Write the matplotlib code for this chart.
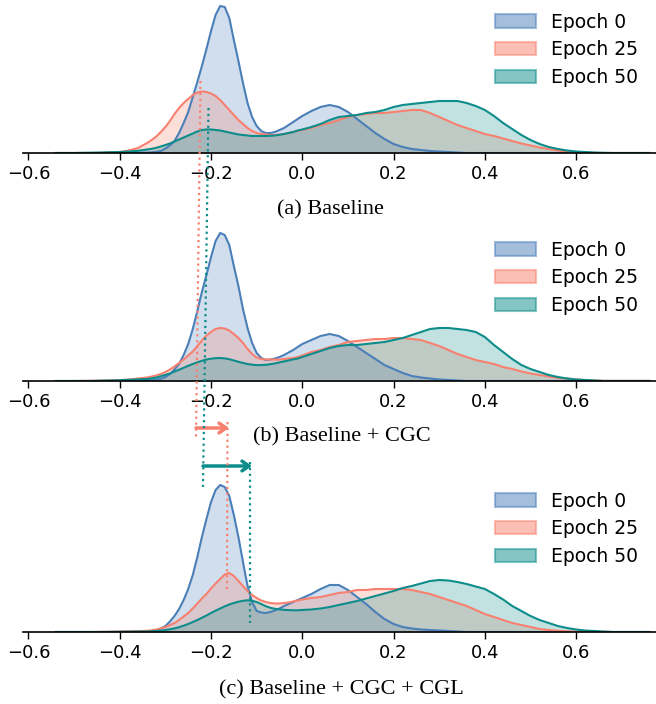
import numpy as np
import matplotlib
matplotlib.use("Agg")
import matplotlib.pyplot as plt
from matplotlib.patches import Patch, FancyArrowPatch
from matplotlib.lines import Line2D

plt.rcParams['font.family'] = ['DejaVu Sans']

# evaluation grid of the density curves: finer around the sharp first peak
x_grid = np.round(np.r_[np.arange(-0.54, -0.35, 0.02),
                        np.arange(-0.34, -0.005, 0.01),
                        np.arange(0.0, 0.761, 0.02)], 2)

# densities (arbitrary units), one list per epoch and panel
# (a) Baseline
a_ep0 = [0, 0, 0, 0, 0, 0, 0, 0, 0, 0.2,
         0.4, 0.7, 1.2, 2, 4.5, 7.5, 12, 20, 30, 41, 56, 71, 87, 104, 122, 138, 147, 146, 135, 113,
         92, 70, 50, 36, 27, 22, 20, 20, 21, 23, 25, 28, 31, 34,
         37, 42, 46, 48, 46, 41, 34, 27, 20, 14, 9, 6, 4, 3, 2, 1.5, 1, 0.5, 0, 0,
         0, 0, 0, 0, 0, 0, 0, 0, 0, 0, 0, 0, 0, 0, 0, 0, 0, 0, 0]
a_ep25 = [0, 0, 0, 0, 0, 0.2, 0.5, 1, 2.5, 5,
          10, 13, 16.5, 21, 26, 32, 39, 45, 50, 54, 58, 60.5, 61.5, 61, 59.5, 57, 53, 48, 43, 38,
          33, 29, 25, 22, 20, 19, 18.5, 18, 18, 18.5, 19, 20, 21, 22,
          23, 25, 28, 30, 33, 36, 38, 39, 40, 40, 41, 42, 43, 43, 40, 36, 32, 28, 25, 22,
          19, 17, 14.5, 12, 9.5, 7.5, 5.5, 4, 2.5, 1.5, 1, 0.5, 0, 0, 0, 0, 0, 0, 0]
a_ep50 = [0, 0, 0, 0.2, 0.3, 0.5, 0.8, 1, 1.5, 2.2,
          3.5, 4.2, 5.2, 6.5, 8, 9.5, 11.5, 13.5, 15.5, 17.5, 19.5, 21.5, 23, 23.5, 23.5, 23, 22.5,
          21.5, 20.5, 19.5, 18.5, 18, 17.5, 17, 17, 17, 17, 17.2, 17.5, 18.2, 19, 20, 21, 22.5,
          23.5, 26, 29, 33, 36, 37, 38, 40, 41, 43, 46, 48, 49, 50, 51, 52, 52, 52, 50, 47,
          43, 37, 30, 24, 18, 13, 9, 6, 4, 2.5, 1.5, 1, 0.5, 0.2, 0, 0, 0, 0, 0]

# (b) Baseline + CGC
b_ep0 = [0, 0, 0, 0, 0, 0, 0, 0, 0, 0.2,
         0.5, 0.8, 1.3, 2.2, 4, 7, 11.5, 17, 26, 37, 52, 70, 89, 106, 124, 140, 148, 146, 136, 115,
         95, 72, 53, 38, 28, 23, 21, 21.5, 22.5, 24, 26, 28.5, 31, 34,
         37, 41, 45, 47, 45, 40, 34, 28, 22, 16, 12, 8, 5, 3.5, 2.5, 1.5, 1, 0.5, 0, 0,
         0, 0, 0, 0, 0, 0, 0, 0, 0, 0, 0, 0, 0, 0, 0, 0, 0, 0, 0]
b_ep25 = [0, 0, 0, 0.2, 0.3, 0.4, 0.6, 0.9, 1.5, 2.5,
          3.5, 4.5, 5.5, 7, 9, 11.5, 14.5, 18, 21.5, 25.5, 29.5, 35, 40.5, 45.5, 49, 52, 53, 52.5,
          50.5, 47, 43, 38, 32, 27, 23.5, 22, 21.5, 21.5, 21.5, 21.5, 22, 22.5, 23, 24,
          25.5, 29, 31, 34, 36, 39, 40, 41, 42, 42, 43, 43, 42, 41, 38, 35, 31, 27, 24, 21,
          19, 17, 14, 12, 9.5, 7.5, 6, 4.5, 3, 2.5, 1.5, 1, 0.5, 0.2, 0.2, 0.2, 0.2, 0.2, 0.2]
b_ep50 = [0, 0, 0, 0, 0, 0.3, 0.5, 0.8, 1.2, 1.6,
          2, 2.7, 3.5, 4.8, 6.2, 7.5, 9.5, 11.3, 13.2, 15.2, 17, 18.7, 20.2, 21.5, 22.3, 22.8, 23,
          22.6, 21.8, 20.5, 19.2, 18, 17, 16.3, 15.9, 15.9, 16.2, 16.8, 17.6, 18.6, 19.6, 20.6,
          21.6, 22.5,
          24, 27, 30, 33, 35, 36, 36, 37, 38, 39, 41, 43, 46, 49, 52, 53, 53, 52, 51, 49,
          44, 36, 29, 22, 16, 12, 9, 6, 4, 2.5, 1.5, 1, 0.5, 0, 0, 0, 0, 0, 0]

# (c) Baseline + CGC + CGL
c_ep0 = [0, 0, 0, 0, 0, 0, 0, 0, 0.1, 0.3,
         0.5, 1, 1.8, 3.5, 6, 10.5, 16, 23, 32, 43, 57, 75, 95, 113, 130, 142, 147, 145, 136, 117,
         95, 70, 46, 30, 21, 19.5, 19, 20, 21.5, 23.5, 26, 28, 30, 32,
         34, 38, 43, 47, 47, 42, 35, 28, 20, 13, 8, 5, 3.5, 2.5, 2, 1.5, 1, 0.5, 0, 0,
         0, 0, 0, 0, 0, 0, 0, 0, 0, 0, 0, 0, 0, 0, 0, 0, 0, 0, 0]
c_ep25 = [0, 0, 0, 0, 0, 0.2, 0.3, 0.5, 0.7, 0.9,
          1.2, 1.7, 2.5, 3.5, 5, 7, 9, 12, 15.5, 19, 23.5, 28.5, 33.5, 38, 43.5, 48.5, 53, 57.5,
          59, 56, 51, 46, 41, 37, 34, 31.5, 30, 29, 28.5, 28.5, 29, 29.5, 30.5, 31.5,
          32.5, 34, 35, 37, 39, 40, 42, 42, 43, 43, 43, 43, 42, 40, 38, 35, 32, 29, 26, 22,
          18, 15, 12, 9, 7, 5, 3, 2, 1.2, 0.7, 0.3, 0, 0, 0, 0, 0, 0, 0, 0]
c_ep50 = [0, 0, 0, 0, 0, 0, 0.1, 0.2, 0.3, 0.4,
          0.5, 0.7, 1, 1.4, 2, 2.7, 3.6, 4.8, 6.3, 8, 10, 12, 14.2, 16.5, 19, 21.3, 23.5, 25.6,
          27.5, 29, 30.3, 31.2, 31.7, 31.2, 30, 28, 25.8, 24.2, 23.2, 22.6, 22.2, 21.9, 21.7, 21.7,
          22, 22.5, 23.5, 25, 27, 29, 31, 33.5, 36, 38.5, 41, 44, 46, 48.5, 51, 52, 51.5, 50, 48,
          45.5, 43, 38, 32.5, 26, 21, 16, 12, 9, 6, 4, 2.5, 1.5, 1, 0.5, 0, 0, 0, 0, 0]

epochs = ["Epoch 0", "Epoch 25", "Epoch 50"]
colors = ["#4a7fb8", "#f8806f", "#0c8c8a"]
panels = [
    ("(a) Baseline", [a_ep0, a_ep25, a_ep50]),
    ("(b) Baseline + CGC", [b_ep0, b_ep25, b_ep50]),
    ("(c) Baseline + CGC + CGL", [c_ep0, c_ep25, c_ep50]),
]

W, H = 656, 704
fig = plt.figure(figsize=(W / 100, H / 100), dpi=100)

# axes placement in pixels: baseline (from top) and caption centre
baselines = [153, 381, 632]
captions = [(330, 210), (342, 437), (341, 690)]
ax_left, ax_right, ax_h = 23, 656, 150


def px(x, y):
    # pixel position (from top-left) -> figure fraction
    return x / W, 1 - y / H


for (title, curves), base, (cx, cy) in zip(panels, baselines, captions):
    ax = fig.add_axes([ax_left / W, (H - base) / H, (ax_right - ax_left) / W, ax_h / H])
    for vals, col in zip(curves, colors):
        ax.fill_between(x_grid, vals, 0, color=col, alpha=0.25, linewidth=0)
        ax.plot(x_grid, vals, color=col, linewidth=1.5, solid_joinstyle="round")
    ax.set_xlim(-0.612, 0.775)
    ax.set_ylim(0, ax_h)
    ax.set_xticks([-0.6, -0.4, -0.2, 0.0, 0.2, 0.4, 0.6])
    ax.tick_params(axis='x', labelsize=13, length=5, width=1)
    ax.set_yticks([])
    for side in ("left", "right", "top"):
        ax.spines[side].set_visible(False)
    ax.spines["bottom"].set_linewidth(1.2)
    handles = [Patch(facecolor=c, edgecolor=c, alpha=0.5, linewidth=1.5) for c in colors]
    ax.legend(handles, epochs, loc="upper right", bbox_to_anchor=(0.995, 1.036),
              frameon=False, fontsize=13.5, handlelength=2.2, labelspacing=0.47,
              handletextpad=0.8, borderpad=0.3)
    fig.text(*px(cx, cy), title, ha="center", va="center", fontsize=16,
             family="Liberation Serif")

# dotted guide lines linking the peak positions across panels
guides = [
    (colors[1], (200.5, 81), (196, 438)),
    (colors[2], (208.5, 108), (203, 487)),
    (colors[1], (227.5, 422), (227, 591)),
    (colors[2], (250, 462), (250, 623)),
]
for col, p0, p1 in guides:
    (x0, y0), (x1, y1) = px(*p0), px(*p1)
    fig.add_artist(Line2D([x0, x1], [y0, y1], transform=fig.transFigure,
                          color=col, linestyle=":", linewidth=1.6))

# shift arrows
for col, p0, p1 in [(colors[1], (196, 428), (229, 428)), (colors[2], (203, 466), (252, 466))]:
    fig.add_artist(FancyArrowPatch(px(*p0), px(*p1), transform=fig.transFigure,
                                   arrowstyle="->,head_length=5,head_width=3.5",
                                   color=col, linewidth=2.5, shrinkA=0, shrinkB=0))

fig.savefig("out.png", dpi=100)
